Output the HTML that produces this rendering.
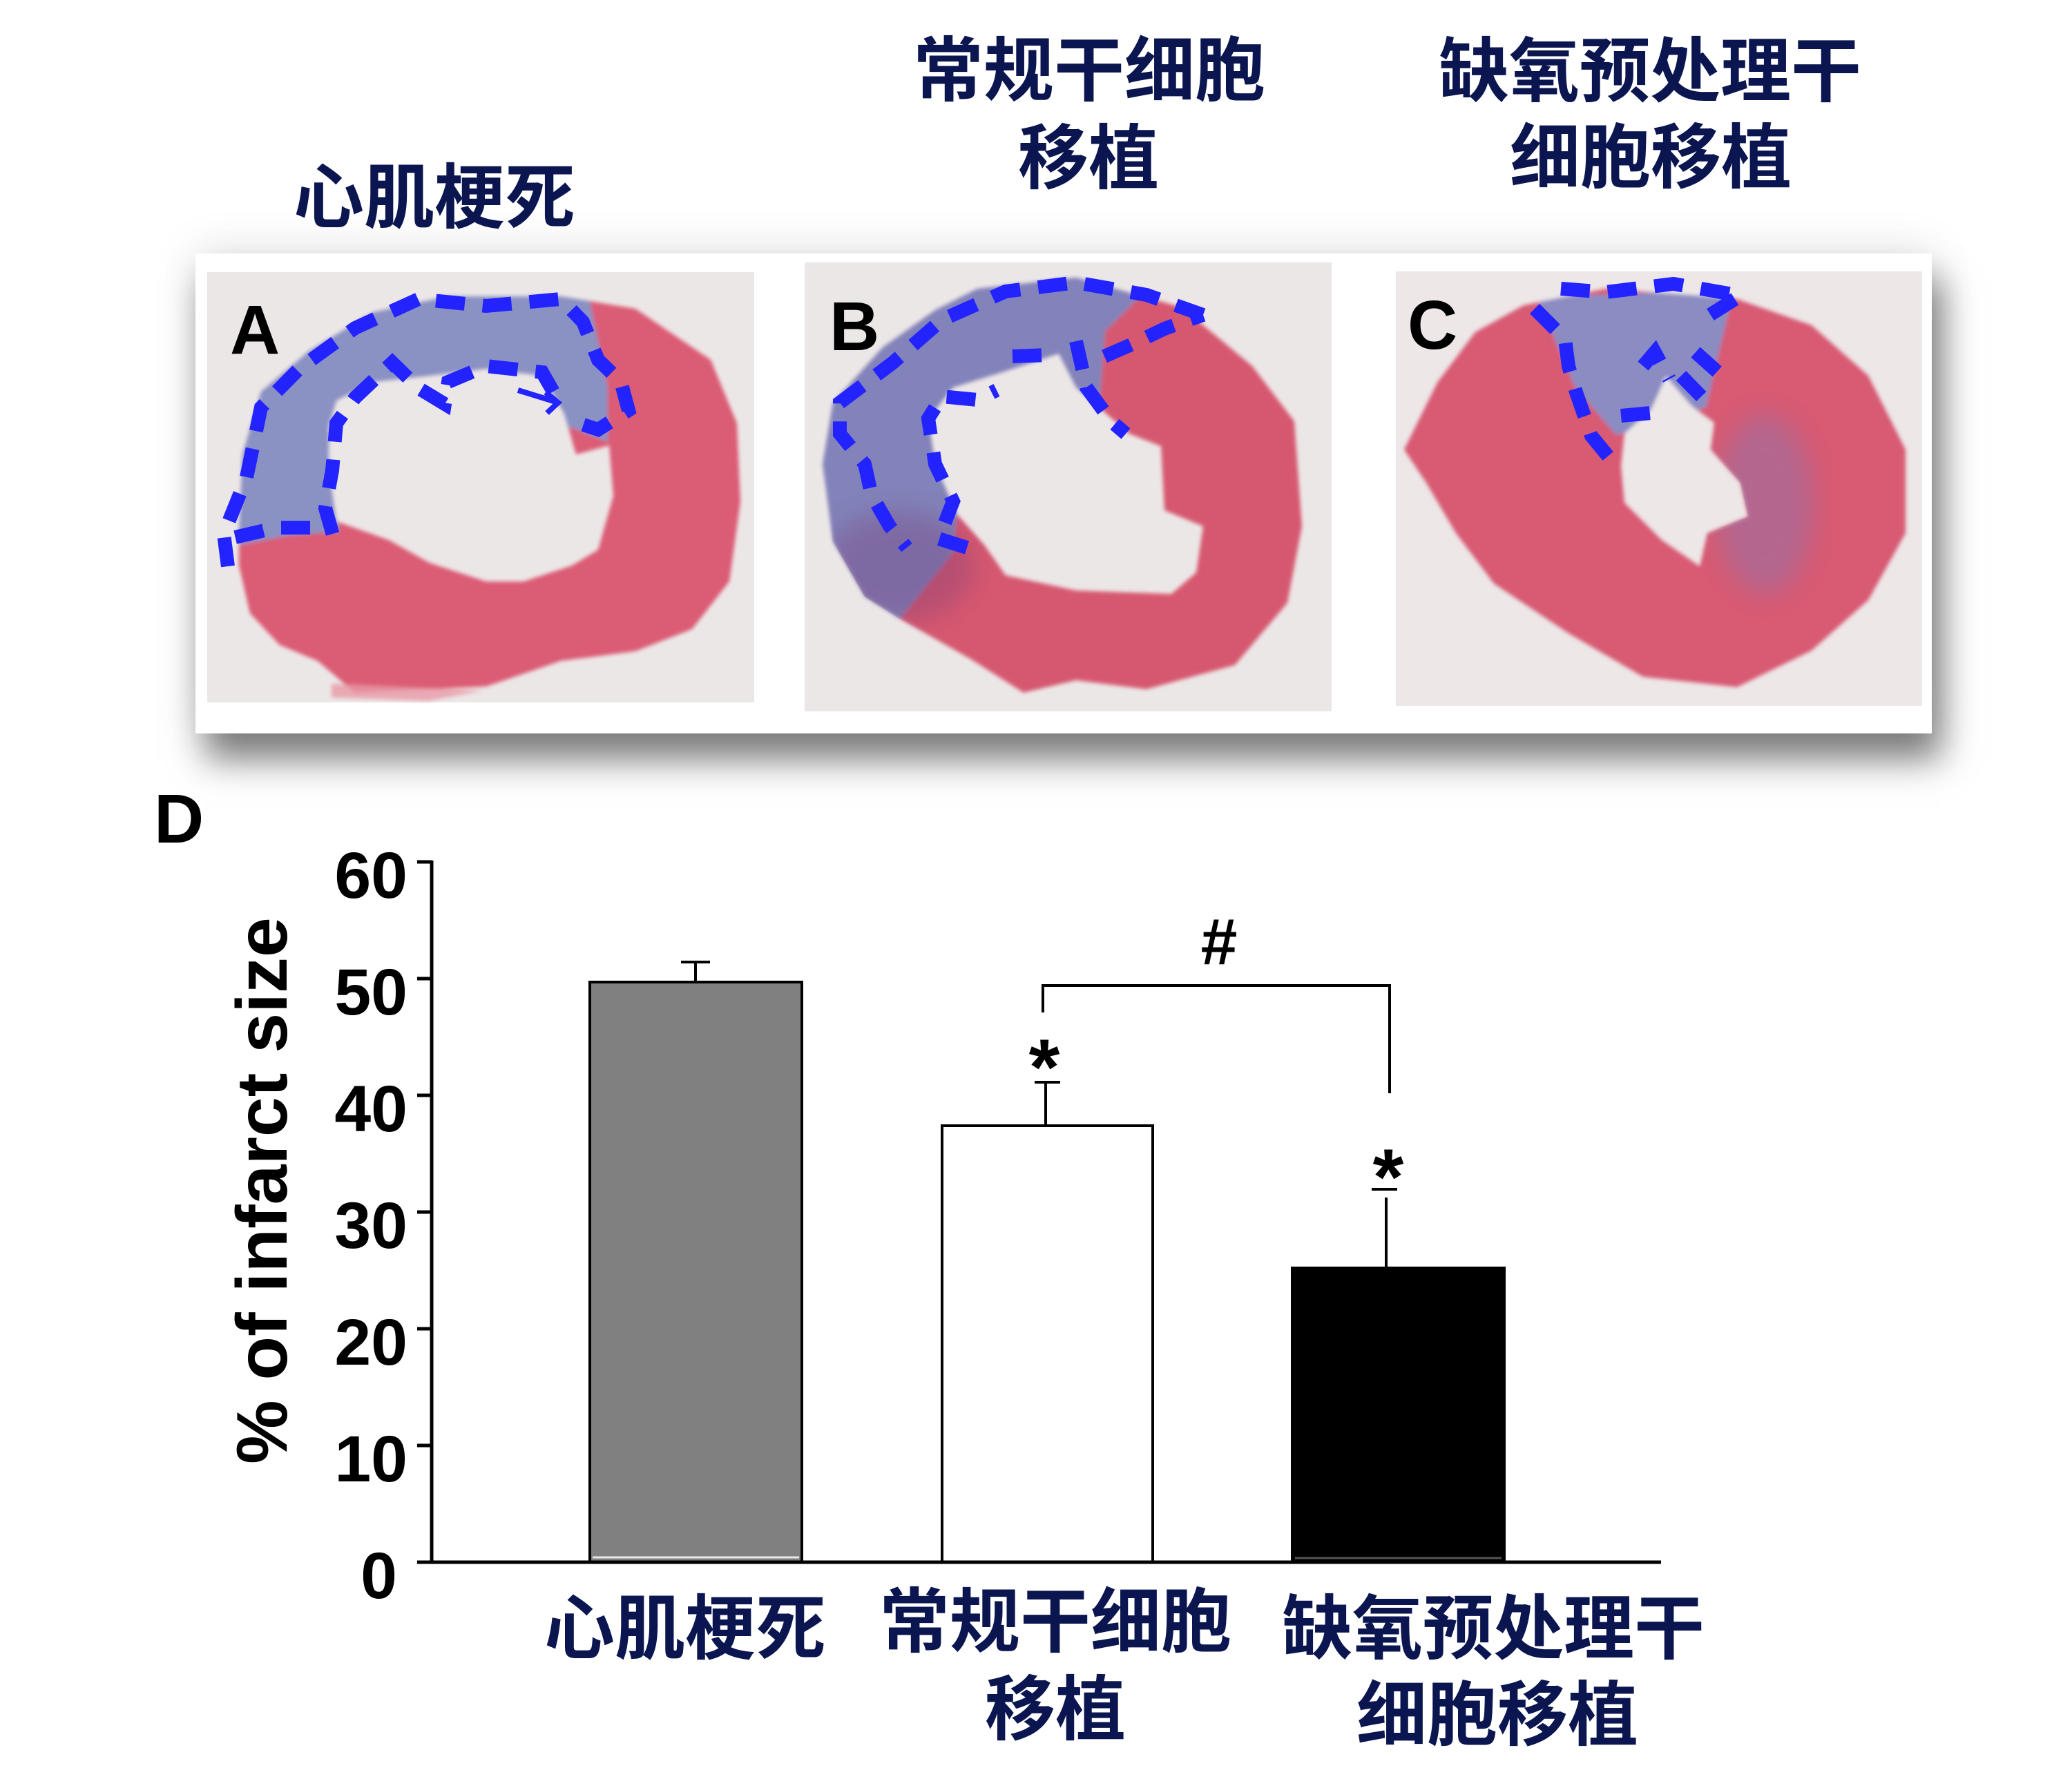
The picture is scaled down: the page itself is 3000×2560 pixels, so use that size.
<!DOCTYPE html>
<html>
<head>
<meta charset="utf-8">
<style>
  html, body { margin:0; padding:0; background:#ffffff; }
  body { width:3000px; height:2560px; position:relative; overflow:hidden; }
  #frame {
    position:absolute; left:283px; top:367px; width:2514px; height:695px;
    background:#ffffff;
    box-shadow: 14px 38px 48px rgba(0,0,0,0.5), 0 -6px 60px rgba(0,0,0,0.10);
  }
  svg { position:absolute; left:0; top:0; }
  .cjk { font-family:"Liberation Sans","Noto Sans CJK SC","WenQuanYi Zen Hei",sans-serif; font-weight:700; fill:#0b1650; }
  .lat { font-family:"Liberation Sans", Arial, sans-serif; font-weight:700; fill:#000; }
</style>
</head>
<body>
<div id="frame"></div>
<svg width="3000" height="2560" viewBox="0 0 3000 2560" xmlns="http://www.w3.org/2000/svg">
  <defs>
    <filter id="soft" x="-5%" y="-5%" width="110%" height="110%">
      <feGaussianBlur stdDeviation="3"/>
    </filter>
    <filter id="soft2" x="-20%" y="-20%" width="140%" height="140%">
      <feGaussianBlur stdDeviation="18"/>
    </filter>
    <clipPath id="ringA">
      <path clip-rule="evenodd" d="M346,773 L351,658 378,567 449,507 541,452 649,429 812,429 920,447 1029,521 1067,613 1072,727 1056,842 1002,911 920,943 812,957 704,994 514,1003 460,957 405,934 362,888 346,819 Z M487,580 L541,553 622,544 704,534 785,544 817,599 834,658 882,645 888,718 866,796 828,819 758,842 704,842 622,815 563,782 487,755 476,681 476,617 Z"/>
    </clipPath>
    <clipPath id="ringB">
      <path clip-rule="evenodd" d="M1415,418 L1558,402 1711,445 1813,530 1874,610 1885,762 1864,873 1788,963 1660,998 1558,985 1482,1003 1405,954 1303,896 1252,864 1206,784 1191,672 1206,583 1278,503 1354,449 Z M1451,539 L1533,512 1558,561 1635,628 1681,646 1686,739 1742,762 1732,829 1696,860 1558,855 1456,833 1425,789 1385,744 1354,672 1344,606 1380,561 Z"/>
    </clipPath>
    <clipPath id="ringC">
      <path clip-rule="evenodd" d="M2206,442 L2325,418 2515,433 2623,471 2705,544 2759,651 2759,772 2705,869 2623,942 2515,995 2379,980 2271,917 2163,845 2108,772 2065,699 2033,651 2081,554 2136,481 Z M2352,627 L2390,593 2412,544 2450,588 2482,612 2477,651 2520,699 2531,748 2472,772 2461,820 2406,782 2352,728 2347,675 Z"/>
    </clipPath>
  </defs>

  <!-- Top titles -->
  <text class="cjk" x="629" y="322" font-size="102" text-anchor="middle">心肌梗死</text>
  <text class="cjk" x="1577" y="138" font-size="102" text-anchor="middle">常规干细胞</text>
  <text class="cjk" x="1576" y="265" font-size="102" text-anchor="middle">移植</text>
  <text class="cjk" x="2389" y="139" font-size="102" text-anchor="middle">缺氧预处理干</text>
  <text class="cjk" x="2390" y="264" font-size="102" text-anchor="middle">细胞移植</text>

  <!-- Photo backgrounds -->
  <rect x="300" y="394" width="792" height="623" fill="#ece7e7"/>
  <rect x="1165" y="380" width="763" height="650" fill="#ece7e7"/>
  <rect x="2021" y="393" width="762" height="629" fill="#ede7e7"/>

  <!-- Heart A -->
  <g filter="url(#soft)">
    <g clip-path="url(#ringA)">
      <rect x="300" y="394" width="792" height="623" fill="#db5b74"/>
      <path d="M290,800 L420,775 L490,770 L490,600 L830,620 L880,640 L880,560 L845,394 L290,394 Z" fill="#8a91c3"/>
    </g>
    <path d="M480,990 L700,1000 L620,1015 L480,1010 Z" fill="#e89aa8" opacity="0.8"/>
  </g>
  <g fill="none" stroke="#2323ff" stroke-width="20" stroke-dasharray="42 26">
    <path d="M330,820 L324,773 L357,691 L378,590 L433,534 L514,475 L606,433 L704,443 L812,433 L844,466 L866,521 L899,553 L910,594 L866,622 L823,608"/>
    <path d="M801,567 L785,539 L704,530 L649,553 L644,585 L606,562 L568,525 L514,576 L487,613 L481,681 L471,736 L487,792"/>
    <path d="M449,764 L400,764 L340,778"/>
  </g>
  <path d="M750,565 L805,582 M790,568 L808,583 L792,598" fill="none" stroke="#2323ff" stroke-width="8"/>

  <!-- Heart B -->
  <g filter="url(#soft)">
    <g clip-path="url(#ringB)">
      <rect x="1165" y="380" width="763" height="650" fill="#d6586f"/>
      <path d="M1180,880 L1300,900 L1380,800 L1400,600 L1590,610 L1600,480 L1660,420 L1660,390 L1180,390 Z" fill="#8283ba"/>
    </g>
  </g>
  <g clip-path="url(#ringB)">
    <ellipse cx="1300" cy="820" rx="110" ry="80" fill="#7a3d78" opacity="0.35" filter="url(#soft2)"/>
  </g>
  <g fill="none" stroke="#2323ff" stroke-width="20" stroke-dasharray="42 26">
    <path d="M1742,456 L1660,427 L1558,409 L1456,422 L1364,463 L1293,525 L1216,583 L1216,628 L1252,672 L1262,717 L1288,762 L1313,793"/>
    <path d="M1400,793 L1359,780 L1380,726 L1354,672 L1344,606 L1364,574 L1415,579 L1443,565"/>
    <path d="M1466,516 L1517,514"/>
    <path d="M1558,494 L1573,561 L1609,610 L1630,628"/>
    <path d="M1599,516 L1640,498 L1686,476 L1742,456"/>
  </g>

  <!-- Heart C -->
  <g filter="url(#soft)">
    <g clip-path="url(#ringC)">
      <rect x="2021" y="393" width="762" height="629" fill="#d85a73"/>
      <path d="M2225,430 L2510,420 L2470,590 L2340,630 L2280,560 Z" fill="#8a8cc2"/>
    </g>
  </g>
  <g clip-path="url(#ringC)">
    <ellipse cx="2555" cy="730" rx="70" ry="130" fill="#7f7ab8" opacity="0.4" filter="url(#soft2)"/>
  </g>
  <g fill="none" stroke="#2323ff" stroke-width="20" stroke-dasharray="42 26">
    <path d="M2260,418 L2325,423 L2423,411 L2520,428 L2455,469"/>
    <path d="M2222,447 L2266,491 L2271,530 L2282,568 L2304,631 L2336,670"/>
    <path d="M2347,602 L2390,598"/>
    <path d="M2379,530 L2396,510 L2417,549"/>
    <path d="M2434,544 L2472,583"/>
    <path d="M2455,510 L2504,554"/>
  </g>

  <!-- Panel letters -->
  <text class="lat" x="333" y="512" font-size="100">A</text>
  <text class="lat" x="1201" y="507" font-size="100">B</text>
  <text class="lat" x="2038" y="505" font-size="100">C</text>

  <!-- Chart D -->
  <text class="lat" x="223" y="1220" font-size="100">D</text>

  <!-- Y axis title -->
  <text class="lat" x="415" y="1724" font-size="104" text-anchor="middle" transform="rotate(-90 415 1724)">% of infarct size</text>

  <!-- Tick labels -->
  <g class="lat" font-size="95" text-anchor="end">
    <text x="590" y="1300">60</text>
    <text x="590" y="1469">50</text>
    <text x="590" y="1638">40</text>
    <text x="590" y="1807">30</text>
    <text x="590" y="1976">20</text>
    <text x="590" y="2145">10</text>
    <text x="575" y="2314">0</text>
  </g>

  <!-- Bars -->
  <rect x="854" y="1422" width="307" height="840" fill="#808080" stroke="#000" stroke-width="4"/>
  <line x1="858" y1="2255" x2="1157" y2="2255" stroke="#e8e8e8" stroke-width="3"/>
  <rect x="1364" y="1630" width="305" height="632" fill="#ffffff" stroke="#000" stroke-width="4"/>
  <rect x="1871" y="1836" width="307" height="426" fill="#000000" stroke="#000" stroke-width="4"/>
  <line x1="1875" y1="2256" x2="2174" y2="2256" stroke="#555" stroke-width="3"/>

  <!-- Axes -->
  <g stroke="#000" stroke-width="5" fill="none">
    <line x1="625" y1="1246" x2="625" y2="2264"/>
    <line x1="604" y1="2262" x2="2405" y2="2262"/>
    <line x1="604" y1="1248" x2="625" y2="1248"/>
    <line x1="604" y1="1417" x2="625" y2="1417"/>
    <line x1="604" y1="1586" x2="625" y2="1586"/>
    <line x1="604" y1="1755" x2="625" y2="1755"/>
    <line x1="604" y1="1924" x2="625" y2="1924"/>
    <line x1="604" y1="2093" x2="625" y2="2093"/>
  </g>

  <!-- Error bars -->
  <g stroke="#000" stroke-width="4" fill="none">
    <line x1="1007" y1="1422" x2="1007" y2="1393"/>
    <line x1="986" y1="1393" x2="1028" y2="1393"/>
    <line x1="1514" y1="1630" x2="1514" y2="1567"/>
    <line x1="1498" y1="1567" x2="1535" y2="1567"/>
    <line x1="2007" y1="1836" x2="2007" y2="1734"/>
    <line x1="1986" y1="1722" x2="2023" y2="1722"/>
    <path d="M1510,1466 V1427 H2012 V1583"/>
  </g>

  <!-- Significance marks -->
  <text class="lat" x="1765" y="1396" font-size="95" text-anchor="middle">#</text>
  <text class="lat" x="1512" y="1585" font-size="115" text-anchor="middle">*</text>
  <text class="lat" x="2010" y="1744" font-size="115" text-anchor="middle">*</text>

  <!-- X labels -->
  <text class="cjk" x="992" y="2394" font-size="102" text-anchor="middle">心肌梗死</text>
  <text class="cjk" x="1528" y="2384" font-size="102" text-anchor="middle">常规干细胞</text>
  <text class="cjk" x="1528" y="2511" font-size="102" text-anchor="middle">移植</text>
  <text class="cjk" x="2162" y="2394" font-size="102" text-anchor="middle">缺氧预处理干</text>
  <text class="cjk" x="2168" y="2519" font-size="102" text-anchor="middle">细胞移植</text>
</svg>
</body>
</html>
